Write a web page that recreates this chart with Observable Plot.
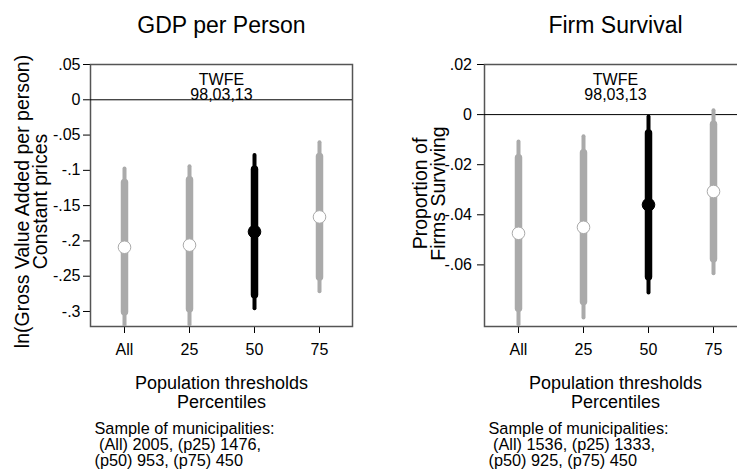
<!DOCTYPE html>
<html>
<head>
<meta charset="utf-8">
<script src="https://cdn.jsdelivr.net/npm/d3@7"></script>
<script src="https://cdn.jsdelivr.net/npm/@observablehq/plot@0.6"></script>
<style>
  html, body { margin: 0; padding: 0; background: #fff; }
  #figure { display: flex; width: 737px; height: 471px; overflow: hidden; }
  #figure svg { flex: none; }
</style>
</head>
<body>
<div id="figure"></div>
<script>
// Population-threshold samples shown on the x axis
const categories = ["All", "25", "50", "75"];
const highlighted = "50";

// GDP per person: point estimates with 95% (thin) and 90% (thick) intervals
const gdpEstimate = [-0.209, -0.206, -0.187, -0.166];
const gdpLo95 = [-0.323, -0.319, -0.296, -0.272];
const gdpHi95 = [-0.098, -0.095, -0.079, -0.061];
const gdpLo90 = [-0.301, -0.297, -0.277, -0.252];
const gdpHi90 = [-0.118, -0.114, -0.099, -0.081];
const gdpTicks = [0.05, 0, -0.05, -0.1, -0.15, -0.2, -0.25, -0.3];
const gdpTickLabels = [".05", "0", "-.05", "-.1", "-.15", "-.2", "-.25", "-.3"];

// Firm survival: point estimates with 95% (thin) and 90% (thick) intervals
const survEstimate = [-0.0474, -0.0450, -0.0360, -0.0307];
const survLo95 = [-0.0839, -0.0812, -0.0712, -0.0635];
const survHi95 = [-0.0109, -0.0088, -0.0010, 0.0015];
const survLo90 = [-0.0775, -0.0748, -0.0649, -0.0578];
const survHi90 = [-0.0174, -0.0154, -0.0075, -0.0041];
const survTicks = [0.02, 0, -0.02, -0.04, -0.06];
const survTickLabels = [".02", "0", "-.02", "-.04", "-.06"];

// Texts
const gdpTitle = "GDP per Person";
const gdpYTitle = "ln(Gross Value Added per person)\nConstant prices";
const gdpNote = "Sample of municipalities:\n\u00a0(All) 2005, (p25) 1476,\n(p50) 953, (p75) 450";
const survTitle = "Firm Survival";
const survYTitle = "Proportion of\nFirms Surviving";
const survNote = "Sample of municipalities:\n\u00a0(All) 1536, (p25) 1333,\n(p50) 925, (p75) 450";
const xTitle = "Population thresholds\nPercentiles";
const specLabel = "TWFE\n98,03,13";

const GRAY = "#aaaaaa";
const FONT = "'Liberation Sans', Arial, Helvetica, sans-serif";

function panel(o) {
  const rows = categories.map((c, i) => ({
    c, est: o.est[i], lo95: o.lo95[i], hi95: o.hi95[i], lo90: o.lo90[i], hi90: o.hi90[i]
  }));
  const labelOf = new Map(o.ticks.map((t, i) => [t, o.tickLabels[i]]));
  const ink = d => d.c === highlighted ? "#000" : GRAY;
  return Plot.plot({
    width: o.width,
    height: 471,
    marginTop: 64,
    marginBottom: 145,
    marginLeft: o.marginLeft,
    marginRight: o.marginRight,
    style: {fontFamily: FONT, fontSize: "16px", background: "#fff", color: "#000"},
    x: {type: "point", domain: categories, padding: 0.5, tickSize: 7, tickPadding: 10, label: null},
    y: {domain: o.domain, ticks: o.ticks, tickFormat: t => labelOf.get(t), tickSize: 7, tickPadding: o.tickPadding, label: null},
    color: {type: "identity"},
    marks: [
      Plot.frame({stroke: "#555", strokeWidth: 1.5}),
      Plot.ruleY([0], {stroke: "#000", strokeWidth: 1}),
      Plot.ruleX(rows, {x: "c", y1: "lo95", y2: "hi95", stroke: ink, strokeWidth: 4, strokeLinecap: "round", clip: true}),
      Plot.ruleX(rows, {x: "c", y1: "lo90", y2: "hi90", stroke: ink, strokeWidth: 7.5, strokeLinecap: "round", clip: true}),
      Plot.dot(rows, {x: "c", y: "est", r: 6.3, fill: d => d.c === highlighted ? "#000" : "#fff", stroke: ink, strokeWidth: 1}),
      Plot.text([specLabel], {text: d => d, frameAnchor: "top", lineAnchor: "bottom", dy: 35, fontSize: 16, lineHeight: 0.9}),
      Plot.text([o.title], {text: d => d, frameAnchor: "top", lineAnchor: "bottom", dy: -31.5, fontSize: 23}),
      Plot.text([o.yTitle], {text: d => d, frameAnchor: "left", rotate: -90, textAnchor: "middle", lineAnchor: "middle", dx: o.yTitleDx, dy: o.yTitleDy, fontSize: 19.5, lineHeight: 0.93}),
      Plot.text([xTitle], {text: d => d, frameAnchor: "bottom", lineAnchor: "bottom", dy: 81.3, fontSize: 18, lineHeight: 1.06}),
      Plot.text([o.note], {text: d => d, frameAnchor: "bottom-left", textAnchor: "start", lineAnchor: "bottom", dx: 4, dy: 139, fontSize: 16.3, lineHeight: 0.98})
    ]
  });
}

const fig = document.getElementById("figure");
fig.append(panel({
  title: gdpTitle, yTitle: gdpYTitle, note: gdpNote,
  est: gdpEstimate, lo95: gdpLo95, hi95: gdpHi95, lo90: gdpLo90, hi90: gdpHi90,
  ticks: gdpTicks, tickLabels: gdpTickLabels, domain: [-0.3213, 0.05],
  width: 368, marginLeft: 90, marginRight: 16, tickPadding: 3, yTitleDx: -58, yTitleDy: 6
}));
fig.append(panel({
  title: survTitle, yTitle: survYTitle, note: survNote,
  est: survEstimate, lo95: survLo95, hi95: survHi95, lo90: survLo90, hi90: survHi90,
  ticks: survTicks, tickLabels: survTickLabels, domain: [-0.0846, 0.02],
  width: 378, marginLeft: 116, marginRight: 0, tickPadding: 5.5, yTitleDx: -54.5, yTitleDy: -2
}));
</script>
</body>
</html>
